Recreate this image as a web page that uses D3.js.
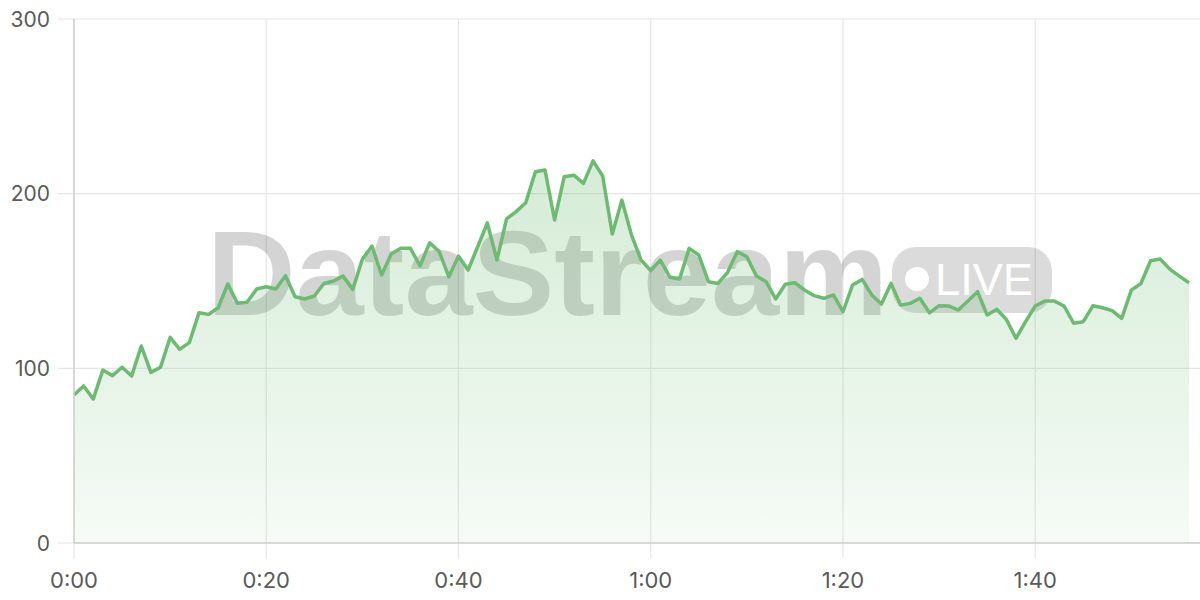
<!DOCTYPE html>
<html><head><meta charset="utf-8">
<script src="https://cdn.jsdelivr.net/npm/d3@7"></script>
<style>html,body{margin:0;padding:0;background:#fff;}svg{display:block;}</style>
</head><body>
<svg id="chart" width="1200" height="600"></svg>
<script>
const values = [84.7,89.9,82.4,99,95.8,100.6,95.6,112.8,97.7,100.6,
117.7,110.9,114.7,131.8,130.9,134.7,148.3,137.2,137.8,145.4,
146.7,145.4,153,141,139.7,141.4,148.6,150,152.8,145.2,
162.4,170,153.4,165.4,168.7,168.7,158.6,171.9,166.8,152.4,
164.3,156.3,169.6,183.3,162,185.6,189.7,194.8,212.5,213.5,
184.9,209.7,210.6,205.9,218.8,210.1,176.9,196.3,176.3,162,
155.9,162,152.1,151.1,168.7,164.9,149.6,148.6,155,166.8,
163.9,152.8,149.6,139.7,148.1,149,144.8,141.6,140.1,142,
132.4,147.7,150.9,142,136.8,148.6,136.2,137.2,140.1,131.8,
135.9,135.7,133.4,138.5,143.9,130.5,133.8,128,117.2,126.7,
135.7,138.5,138.5,135.7,125.8,126.7,135.8,134.7,133,128.6,
144.8,148.6,161.6,162.6,156.8,152.8,149];
const xTicks = [0,20,40,60,80,100];
const yTicks = [0,100,200,300];
const watermarkText = "DataStream";
const badgeText = "LIVE";

const svg = d3.select("#chart");
const x = d3.scaleLinear().domain([0, values.length - 1]).range([74, 1189]);
const y = d3.scaleLinear().domain([0, 300]).range([543, 19]);
const fmt = v => Math.floor(v/60) + ":" + String(v%60).padStart(2,"0");

const defs = svg.append("defs");
const grad = defs.append("linearGradient").attr("id","fillg").attr("x1",0).attr("y1",0).attr("x2",0).attr("y2",1);
grad.append("stop").attr("offset","0%").attr("stop-color","#66bb6a").attr("stop-opacity",0.28);
grad.append("stop").attr("offset","100%").attr("stop-color","#66bb6a").attr("stop-opacity",0.06);

// grid
svg.append("g").selectAll("line").data(yTicks).join("line")
  .attr("x1",58).attr("x2",1200).attr("y1",d=>y(d)).attr("y2",d=>y(d))
  .attr("stroke","#e6e6e6").attr("stroke-width",1.2);
svg.append("g").selectAll("line").data(xTicks).join("line")
  .attr("x1",d=>x(d)).attr("x2",d=>x(d)).attr("y1",19).attr("y2",558)
  .attr("stroke","#e6e6e6").attr("stroke-width",1.2);

// watermark
const wm = svg.append("g");
wm.append("text").attr("x",207).attr("y",315)
  .attr("font-family","Liberation Sans, Arial, sans-serif").attr("font-weight","bold")
  .attr("font-size",120).attr("textLength",681).attr("lengthAdjust","spacingAndGlyphs")
  .attr("fill","#000").attr("fill-opacity",0.17).text(watermarkText);
wm.append("rect").attr("x",892).attr("y",247).attr("width",160).attr("height",66).attr("rx",24)
  .attr("fill","#000").attr("fill-opacity",0.14);
wm.append("circle").attr("cx",917).attr("cy",279).attr("r",12).attr("fill","#fff");
wm.append("text").attr("x",935).attr("y",295)
  .attr("font-family","Liberation Sans, Arial, sans-serif").attr("font-size",44)
  .attr("textLength",98).attr("lengthAdjust","spacingAndGlyphs")
  .attr("fill","#fff").text(badgeText);

// area + line
const area = d3.area().x((d,i)=>x(i)).y0(y(0)).y1(d=>y(d));
const line = d3.line().x((d,i)=>x(i)).y(d=>y(d));
svg.append("path").datum(values).attr("d",area).attr("fill","url(#fillg)");
svg.append("path").datum(values).attr("d",line).attr("fill","none")
  .attr("stroke","#6dbb72").attr("stroke-width",3.5).attr("stroke-linejoin","round");

// axes lines
svg.append("line").attr("x1",74).attr("x2",74).attr("y1",19).attr("y2",543).attr("stroke","#cfcfcf").attr("stroke-width",1.5);
svg.append("line").attr("x1",74).attr("x2",1200).attr("y1",543).attr("y2",543).attr("stroke","#cfcfcf").attr("stroke-width",1.5);

// labels
svg.append("g").selectAll("text").data(yTicks).join("text")
  .attr("x",50).attr("y",d=>y(d)).attr("dy","0.36em").attr("text-anchor","end")
  .attr("font-family","Inter, sans-serif").attr("font-size",21).attr("fill","#5a5a5a").text(d=>d);
svg.append("g").selectAll("text").data(xTicks).join("text")
  .attr("x",d=>x(d)).attr("y",580).attr("dy","0.36em").attr("text-anchor","middle")
  .attr("font-family","Inter, sans-serif").attr("font-size",22).attr("fill","#5a5a5a").text(fmt);
</script>
</body></html>
